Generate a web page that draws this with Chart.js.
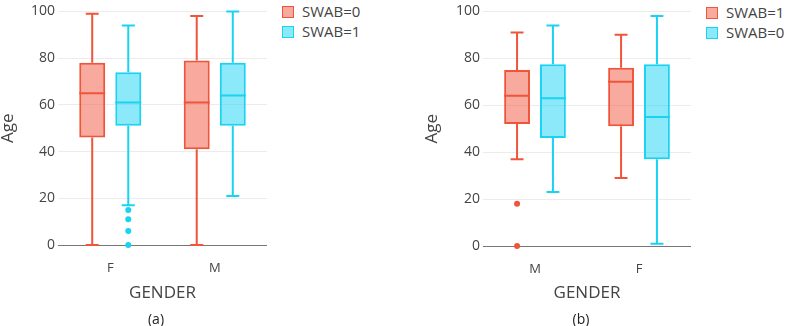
<!DOCTYPE html>
<html>
<head>
<meta charset="utf-8">
<script src="https://cdn.jsdelivr.net/npm/chart.js@4"></script>
<style>
  html, body { margin: 0; padding: 0; background: #fff; width: 787px; height: 326px; overflow: hidden; }
  body { position: relative; font-family: "Open Sans", sans-serif; color: #444; }
  canvas { position: absolute; top: 0; }
  .leg { position: absolute; font-size: 15px; line-height: 20px; white-space: nowrap; color: #444; }
  .leg span.sq { display: inline-block; width: 10px; height: 10px; border: 1px solid; vertical-align: middle; margin-right: 8px; position: relative; top: -1px; }
  .cap { position: absolute; font-size: 14px; transform: translate(-50%, -50%); color: #222; }
</style>
</head>
<body>
<canvas id="ca" width="267" height="326" style="left:0px"></canvas>
<canvas id="cb" width="267" height="326" style="left:424px"></canvas>
<div class="leg" id="legA" style="left:282px; top:1px;"></div>
<div class="leg" id="legB" style="left:706px; top:2px;"></div>
<div class="cap" style="left:156px; top:318px;">(a)</div>
<div class="cap" style="left:581px; top:318px;">(b)</div>
<script>
// ---------- DATA ----------
// each box: [lower whisker, Q1, median, Q3, upper whisker]
const catsA = ['F', 'M'];
const namesA = ['SWAB=0', 'SWAB=1'];
const a_swab0 = [[0, 46, 65, 78, 99], [0, 41, 61, 79, 98]];
const a_swab1 = [[17, 51, 61, 74, 94], [21, 51, 64, 78, 100]];
const a_swab0_out = [[], []];
const a_swab1_out = [[15, 11, 6, 0], []];

const catsB = ['M', 'F'];
const namesB = ['SWAB=1', 'SWAB=0'];
const b_swab1 = [[37, 52, 64, 75, 91], [29, 51, 70, 76, 90]];
const b_swab0 = [[23, 46, 63, 77.5, 94], [1, 37, 55, 77.5, 98]];
const b_swab1_out = [[18, 0], []];
const b_swab0_out = [[], []];

const yTicks = [0, 20, 40, 60, 80, 100];

// ---------- STYLE ----------
const RED = 'rgb(239,85,59)', RED_F = 'rgba(239,85,59,0.5)';
const CYAN = 'rgb(25,211,243)', CYAN_F = 'rgba(25,211,243,0.5)';
const FONT = '"Open Sans", sans-serif';

const boxPlugin = {
  id: 'boxWhiskers',
  afterDatasetsDraw(chart) {
    const ctx = chart.ctx;
    const ys = chart.scales.y;
    chart.data.datasets.forEach((ds, di) => {
      const meta = chart.getDatasetMeta(di);
      ctx.save();
      ctx.strokeStyle = ds.borderColor;
      ctx.fillStyle = ds.borderColor;
      ctx.lineWidth = 2;
      meta.data.forEach((bar, i) => {
        const s = ds.stats[i];
        const x = bar.x, w = bar.width;
        const pMin = ys.getPixelForValue(s[0]);
        const pQ1 = ys.getPixelForValue(s[1]);
        const pMed = ys.getPixelForValue(s[2]);
        const pQ3 = ys.getPixelForValue(s[3]);
        const pMax = ys.getPixelForValue(s[4]);
        const cw = w * 0.5;
        ctx.beginPath();
        ctx.moveTo(x, pQ3); ctx.lineTo(x, pMax);
        ctx.moveTo(x, pQ1); ctx.lineTo(x, pMin);
        ctx.moveTo(x - cw / 2, pMax); ctx.lineTo(x + cw / 2, pMax);
        ctx.moveTo(x - cw / 2, pMin); ctx.lineTo(x + cw / 2, pMin);
        ctx.moveTo(x - w / 2, pMed); ctx.lineTo(x + w / 2, pMed);
        ctx.stroke();
        (ds.outliers[i] || []).forEach(v => {
          ctx.beginPath();
          ctx.arc(x, ys.getPixelForValue(v), 3, 0, Math.PI * 2);
          ctx.fill();
        });
      });
      ctx.restore();
    });
  }
};

function makeChart(id, cats, names, statsArr, outArr, colors, fills, yW, topPad, xH) {
  return new Chart(document.getElementById(id), {
    type: 'bar',
    data: {
      labels: cats,
      datasets: names.map((n, k) => ({
        label: n,
        data: statsArr[k].map(s => [s[1], s[3]]),
        stats: statsArr[k],
        outliers: outArr[k],
        backgroundColor: fills[k],
        borderColor: colors[k],
        borderWidth: 2,
        borderSkipped: false,
        categoryPercentage: 0.69,
        barPercentage: 0.72
      }))
    },
    options: {
      responsive: false,
      animation: false,
      devicePixelRatio: 1,
      layout: { padding: { top: topPad, left: 0, right: 0, bottom: 0 } },
      plugins: { legend: { display: false }, tooltip: { enabled: false } },
      scales: {
        x: {
          type: 'category',
          grid: { display: false, drawTicks: false },
          border: { display: true, color: '#777', width: 1 },
          ticks: { color: '#444', font: { family: FONT, size: 13 }, padding: 15 },
          title: { display: true, text: 'GENDER', color: '#444', font: { family: FONT, size: 17 }, padding: { top: 0, bottom: 23 } },
          afterFit(s) { s.height = xH; }
        },
        y: {
          min: 0, max: 100,
          afterBuildTicks(s) { s.ticks = yTicks.map(v => ({ value: v })); },
          grid: { color: '#ececec', lineWidth: 1, drawTicks: false },
          border: { display: false },
          ticks: { color: '#444', font: { family: FONT, size: 14 }, padding: 3 },
          title: { display: true, text: 'Age', color: '#444', font: { family: FONT, size: 17 }, padding: { top: -2, bottom: 0 } },
          afterFit(s) { s.width = yW; }
        }
      }
    },
    plugins: [boxPlugin]
  });
}

makeChart('ca', catsA, namesA, [a_swab0, a_swab1], [a_swab0_out, a_swab1_out],
  [RED, CYAN], [RED_F, CYAN_F], 58, 10, 81);
makeChart('cb', catsB, namesB, [b_swab1, b_swab0], [b_swab1_out, b_swab0_out],
  [RED, CYAN], [RED_F, CYAN_F], 59, 5, 80);

function legend(id, names, colors, fills) {
  document.getElementById(id).innerHTML = names.map((n, k) =>
    '<div><span class="sq" style="background:' + fills[k] + ';border-color:' + colors[k] + '"></span>' + n + '</div>'
  ).join('');
}
legend('legA', namesA, [RED, CYAN], [RED_F, CYAN_F]);
legend('legB', namesB, [RED, CYAN], [RED_F, CYAN_F]);
</script>
</body>
</html>
